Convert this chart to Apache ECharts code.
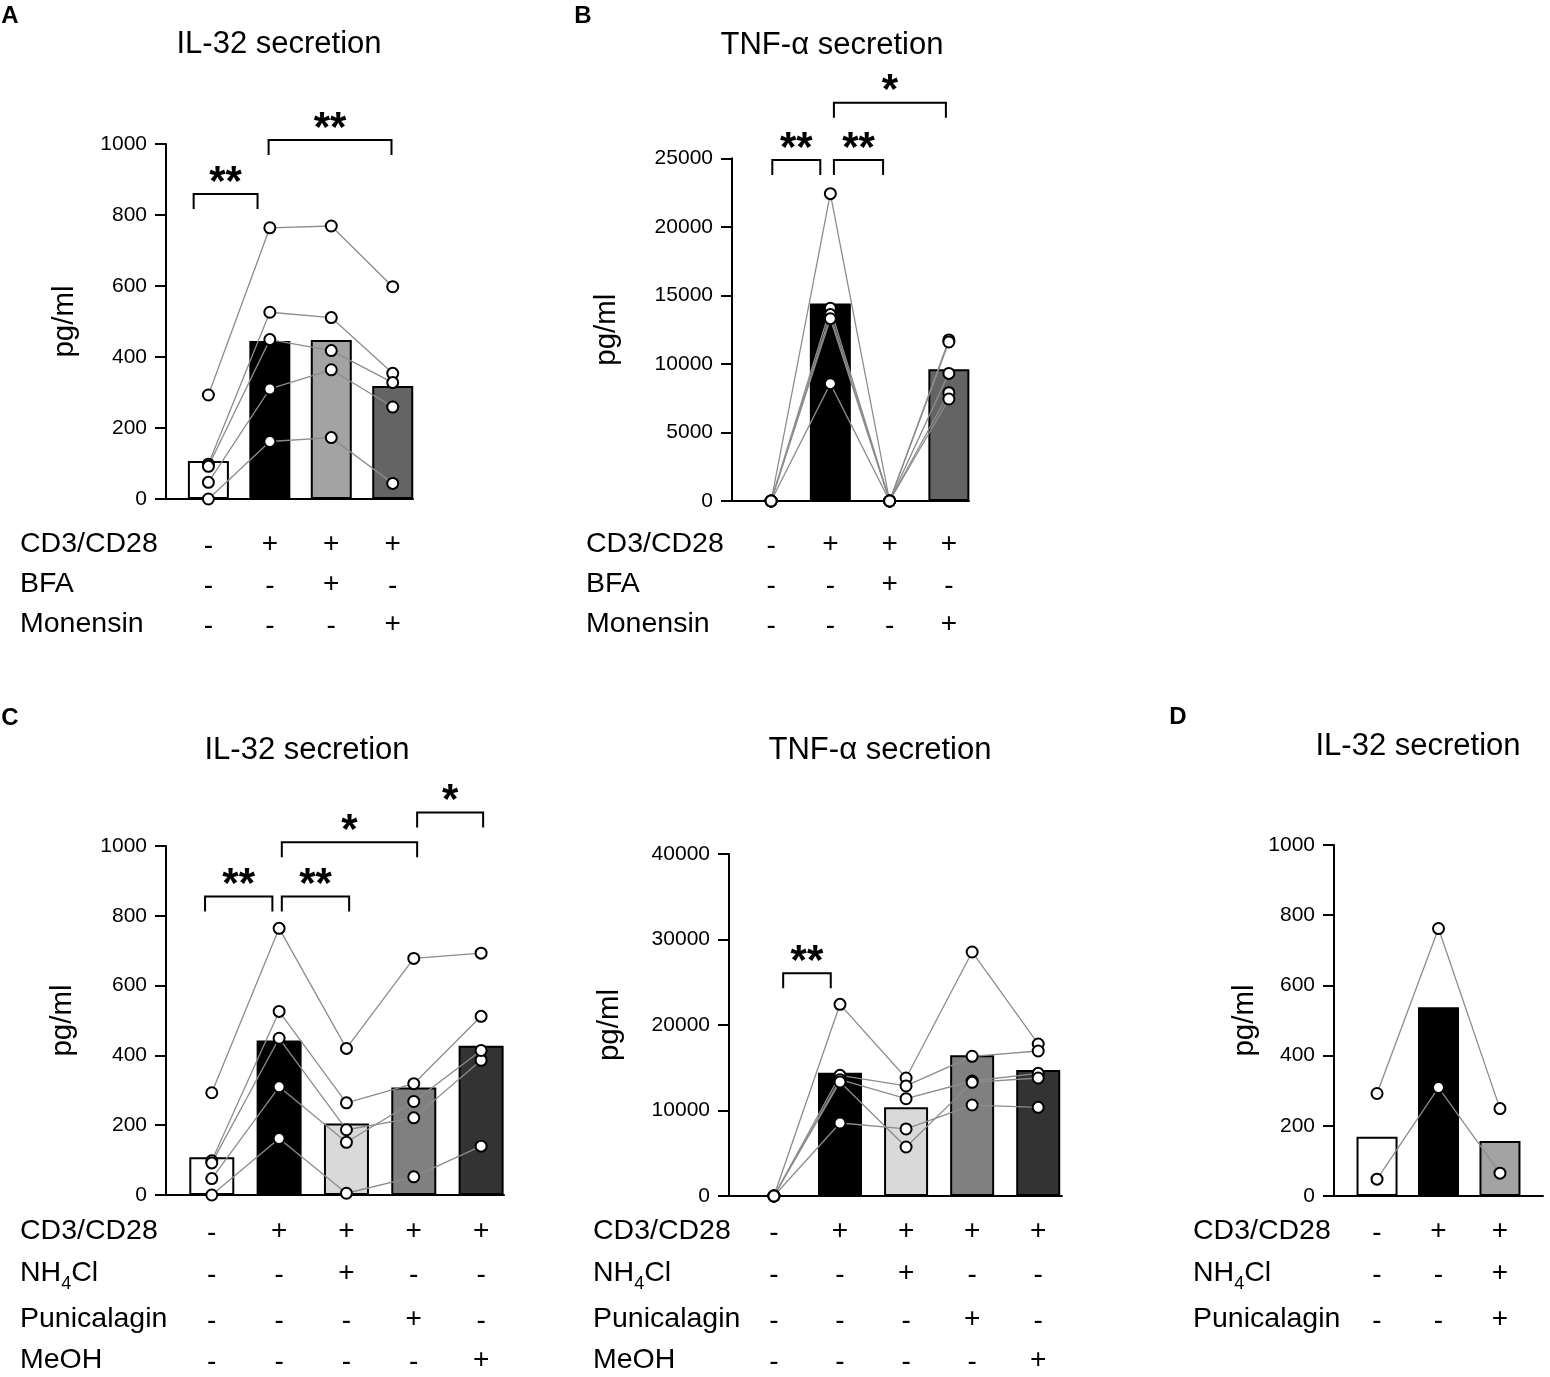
<!DOCTYPE html>
<html lang="en">
<head>
<meta charset="UTF-8" />
<title>IL-32 and TNF-α secretion</title>
<style>
  html, body { margin: 0; padding: 0; background: #fff; }
  #chart { width: 1550px; height: 1377px; }
</style>
<script src="https://cdn.jsdelivr.net/npm/echarts@6/dist/echarts.min.js"></script>
</head>
<body>
<div id="chart"></div>
<script>
const FONT = "'Liberation Sans', Arial, sans-serif";

// A: IL-32, BFA / Monensin
const ilBfaMeans = [107, 445, 448, 318];
const ilBfaDonors = [
  [293, 764, 769, 598],
  [98, 526, 511, 354],
  [92, 449, 418, 328],
  [47, 310, 364, 259],
  [0, 162, 173, 44]
];
const ilBfaBrackets = [[-0.24, 0.80, 859, '**'], [0.98, 2.98, 1011, '**']];
const bfaRows = ['CD3/CD28', 'BFA', 'Monensin'];
const bfaSigns = [['-', '+', '+', '+'], ['-', '-', '+', '-'], ['-', '-', '-', '+']];

// B: TNF-a, BFA / Monensin
const tnfBfaMeans = [0, 14400, 0, 9610];
const tnfBfaDonors = [
  [0, 22420, 0, 11750],
  [0, 14060, 0, 11600],
  [0, 13600, 0, 9310],
  [0, 13300, 0, 7900],
  [0, 8560, 0, 7440]
];
const tnfBfaBrackets = [[0.02, 0.83, 24880, '**'], [1.06, 1.89, 24880, '**'], [1.06, 2.95, 29060, '*']];

// C left: IL-32, NH4Cl / Punicalagin / MeOH
const ilLysMeans = [108, 443, 205, 308, 428];
const ilLysDonors = [
  [293, 764, 420, 678, 693],
  [98, 526, 264, 319, 512],
  [92, 449, 187, 221, 386],
  [47, 310, 151, 268, 414],
  [0, 162, 5, 52, 140]
];
const ilLysBrackets = [[-0.10, 0.90, 855, '**'], [1.04, 2.04, 855, '**'], [1.04, 3.05, 1011, '*'], [3.05, 4.03, 1096, '*']];
const lysRows = ['CD3/CD28', '{n|NH}{s|4}{n|Cl}', 'Punicalagin', 'MeOH'];
const lysSigns = [
  ['-', '+', '+', '+', '+'],
  ['-', '-', '+', '-', '-'],
  ['-', '-', '-', '+', '-'],
  ['-', '-', '-', '-', '+']
];

// C right: TNF-a, NH4Cl / Punicalagin / MeOH
const tnfLysMeans = [0, 14425, 10370, 16450, 14740];
const tnfLysDonors = [
  [0, 22420, 13800, 28540, 17780],
  [0, 14110, 12870, 16340, 16960],
  [0, 13600, 11380, 13450, 14350],
  [0, 13330, 5730, 13290, 13800],
  [0, 8540, 7840, 10640, 10370]
];
const tnfLysBrackets = [[0.14, 0.86, 26040, '**']];

// D: IL-32, NH4Cl + Punicalagin
const ilComboMeans = [169, 538, 157];
const ilComboDonors = [
  [292, 762, 249],
  [48, 309, 65]
];
const comboRows = ['CD3/CD28', '{n|NH}{s|4}{n|Cl}', 'Punicalagin'];
const comboSigns = [['-', '+', '+'], ['-', '-', '+'], ['-', '-', '+']];

const greysA = ['#ffffff', '#000000', '#a3a3a3', '#646464'];
const greysC = ['#ffffff', '#000000', '#d9d9d9', '#808080', '#333333'];

const panels = [
  { means: ilBfaMeans, donors: ilBfaDonors, brackets: ilBfaBrackets, rows: bfaRows, signs: bfaSigns,
    grid: { left: 166, top: 144, width: 247, height: 355 }, xMin: -0.69, xMax: 3.33, yMax: 1000, yStep: 200,
    barWidth: 41, colors: greysA, nameGap: 86, labelX: 20, rowY: [544, 584, 624],
    title: 'IL-32 secretion', titleX: 279, titleY: 44, letter: 'A', letterX: 10, letterY: 16 },
  { means: tnfBfaMeans, donors: tnfBfaDonors, brackets: tnfBfaBrackets, rows: bfaRows, signs: bfaSigns,
    grid: { left: 732, top: 158.3, width: 237, height: 342.7 }, xMin: -0.66, xMax: 3.34, yMax: 25000, yStep: 5000,
    barWidth: 41, colors: greysA, nameGap: 110, labelX: 586, rowY: [544, 584, 624],
    title: 'TNF-α secretion', titleX: 832, titleY: 45, letter: 'B', letterX: 583, letterY: 16 },
  { means: ilLysMeans, donors: ilLysDonors, brackets: ilLysBrackets, rows: lysRows, signs: lysSigns,
    grid: { left: 166, top: 846, width: 338, height: 349 }, xMin: -0.68, xMax: 4.34, yMax: 1000, yStep: 200,
    barWidth: 45, colors: greysC, nameGap: 88, labelX: 20, rowY: [1231, 1273, 1319, 1360],
    title: 'IL-32 secretion', titleX: 307, titleY: 750, letter: 'C', letterX: 10, letterY: 718 },
  { means: tnfLysMeans, donors: tnfLysDonors, brackets: tnfLysBrackets, rows: lysRows, signs: lysSigns,
    grid: { left: 729, top: 854, width: 333, height: 342 }, xMin: -0.68, xMax: 4.36, yMax: 40000, yStep: 10000,
    barWidth: 44, colors: greysC, nameGap: 104, labelX: 593, rowY: [1231, 1273, 1319, 1360],
    title: 'TNF-α secretion', titleX: 880, titleY: 750, letter: '', letterX: 0, letterY: 0 },
  { means: ilComboMeans, donors: ilComboDonors, brackets: [], rows: comboRows, signs: comboSigns,
    grid: { left: 1334, top: 845, width: 209, height: 351 }, xMin: -0.70, xMax: 2.70, yMax: 1000, yStep: 200,
    barWidth: 41, colors: greysA, nameGap: 74, labelX: 1193, rowY: [1231, 1273, 1319],
    title: 'IL-32 secretion', titleX: 1418, titleY: 746, letter: 'D', letterX: 1178, letterY: 717 }
];

const grids = [], xAxes = [], yAxes = [], series = [], graphics = [];
const richRow = {
  n: { fontSize: 28.5, fontFamily: FONT, color: '#000', lineHeight: 40, verticalAlign: 'middle' },
  s: { fontSize: 18, fontFamily: FONT, color: '#000', lineHeight: 18, verticalAlign: 'bottom' }
};

panels.forEach(function (p, k) {
  grids.push(p.grid);
  xAxes.push({
    type: 'value', gridIndex: k, min: p.xMin, max: p.xMax,
    axisLine: { show: true, onZero: false, lineStyle: { color: '#000', width: 2 } },
    axisTick: { show: false }, axisLabel: { show: false }, splitLine: { show: false }
  });
  yAxes.push({
    type: 'value', gridIndex: k, min: 0, max: p.yMax, interval: p.yStep,
    name: 'pg/ml', nameLocation: 'middle', nameGap: p.nameGap,
    nameTextStyle: { fontSize: 29.5, fontFamily: FONT, color: '#000' },
    axisLine: { show: true, onZero: false, lineStyle: { color: '#000', width: 2 } },
    axisTick: { show: true, length: 11, lineStyle: { color: '#000', width: 2 } },
    axisLabel: { fontSize: 21, fontFamily: FONT, color: '#000', margin: 19,
      formatter: function (v) { return String(v); } },
    splitLine: { show: false }
  });

  series.push({
    type: 'bar', xAxisIndex: k, yAxisIndex: k, barWidth: p.barWidth, z: 2, silent: true,
    data: p.means.map(function (v, i) {
      return { value: [i, v], itemStyle: { color: p.colors[i], borderColor: '#000', borderWidth: 2 } };
    })
  });
  p.donors.forEach(function (d) {
    series.push({
      type: 'line', xAxisIndex: k, yAxisIndex: k, z: 3, silent: true, symbol: 'none',
      lineStyle: { color: '#8c8c8c', width: 1.3 },
      data: d.map(function (v, i) { return [i, v]; })
    });
  });
  const pts = [];
  p.donors.forEach(function (d) { d.forEach(function (v, i) { pts.push([i, v]); }); });
  series.push({
    type: 'scatter', xAxisIndex: k, yAxisIndex: k, z: 4, silent: true, symbolSize: 11,
    itemStyle: { color: '#fff', borderColor: '#000', borderWidth: 2, opacity: 1 },
    data: pts
  });

  if (p.brackets.length) {
    series.push({
      type: 'custom', xAxisIndex: k, yAxisIndex: k, z: 5, silent: true, clip: false,
      data: p.brackets.map(function (b) { return [b[0], b[2], b[1]]; }),
      renderItem: function (params, api) {
        const b = p.brackets[params.dataIndex];
        const a = api.coord([b[0], b[2]]);
        const c = api.coord([b[1], b[2]]);
        return {
          type: 'group',
          children: [
            { type: 'polyline',
              shape: { points: [[a[0], a[1] + 15], [a[0], a[1]], [c[0], c[1]], [c[0], c[1] + 15]] },
              style: { stroke: '#000', lineWidth: 2, fill: 'none' } },
            { type: 'text', x: (a[0] + c[0]) / 2, y: a[1] - 21 + 10,
              style: { text: b[3], fontSize: 42, fontWeight: 'bold', fontFamily: FONT, fill: '#000',
                align: 'center', verticalAlign: 'middle', textAlign: 'center', textVerticalAlign: 'middle' } }
          ]
        };
      }
    });
  }

  series.push({
    type: 'custom', xAxisIndex: k, yAxisIndex: k, z: 5, silent: true, clip: false,
    data: p.means.map(function (v, i) { return [i, 0]; }),
    renderItem: function (params, api) {
      const i = params.dataIndex;
      const x = api.coord([i, 0])[0];
      return {
        type: 'group',
        children: p.signs.map(function (row, r) {
          return { type: 'text', x: x, y: p.rowY[r] + (row[i] === '-' ? 2 : 0),
            style: { text: row[i], fontSize: 28, fontFamily: FONT, fill: '#000',
              align: 'center', verticalAlign: 'middle', textAlign: 'center', textVerticalAlign: 'middle' } };
        })
      };
    }
  });

  graphics.push({ type: 'text', x: p.titleX, y: p.titleY,
    style: { text: p.title, fontSize: 31, fontFamily: FONT, fill: '#000',
      align: 'center', verticalAlign: 'middle', textAlign: 'center', textVerticalAlign: 'middle' } });
  if (p.letter) {
    graphics.push({ type: 'text', x: p.letterX, y: p.letterY,
      style: { text: p.letter, fontSize: 24, fontWeight: 'bold', fontFamily: FONT, fill: '#000',
        align: 'center', verticalAlign: 'middle', textAlign: 'center', textVerticalAlign: 'middle' } });
  }
  p.rows.forEach(function (label, r) {
    graphics.push({ type: 'text', x: p.labelX, y: p.rowY[r],
      style: { text: label, rich: richRow, fontSize: 28.5, fontFamily: FONT, fill: '#000',
        align: 'left', verticalAlign: 'middle', textAlign: 'left', textVerticalAlign: 'middle' } });
  });
});

const chart = echarts.init(document.getElementById('chart'), null, { renderer: 'canvas' });
chart.setOption({
  animation: false,
  backgroundColor: '#fff',
  textStyle: { fontFamily: FONT },
  grid: grids,
  xAxis: xAxes,
  yAxis: yAxes,
  series: series,
  graphic: graphics
});
</script>
</body>
</html>
